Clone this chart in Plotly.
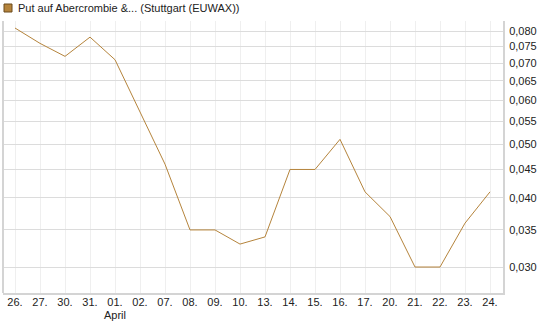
import math
import plotly.graph_objects as go

dates = ["26.", "27.", "30.", "31.", "01.", "02.", "07.", "08.", "09.", "10.",
         "13.", "14.", "15.", "16.", "17.", "20.", "21.", "22.", "23.", "24."]
prices = [0.081, 0.076, 0.072, 0.078, 0.071, 0.057, 0.046, 0.035, 0.035, 0.033,
          0.034, 0.045, 0.045, 0.051, 0.041, 0.037, 0.030, 0.030, 0.036, 0.041]
ytick_vals = [0.030, 0.035, 0.040, 0.045, 0.050, 0.055, 0.060, 0.065, 0.070, 0.075, 0.080]
ytick_text = [f"{v:.3f}".replace(".", ",") for v in ytick_vals]
month_label = "April"
month_at = "01."
series_name = "Put auf Abercrombie &... (Stuttgart (EUWAX))"

W, H = 545, 327
ml, mr, mt, mb = 3, 42, 21, 34
color = "#B5843C"
pw, ph = W - ml - mr, H - mt - mb

xs = list(range(len(dates)))
fig = go.Figure()
fig.add_trace(go.Scatter(x=xs, y=prices, mode="lines", line=dict(color=color, width=1),
                         name=series_name, showlegend=False, hoverinfo="skip"))

fig.update_layout(
    width=W, height=H,
    margin=dict(l=ml, r=mr, t=mt, b=mb),
    paper_bgcolor="white", plot_bgcolor="white",
    font=dict(family="Liberation Sans, Arial, sans-serif", size=11, color="#222"),
    xaxis=dict(
        range=[-0.48, len(dates) - 0.48], tickvals=xs, ticktext=dates,
        showgrid=True, gridcolor="#efefef", gridwidth=1,
        showline=True, linecolor="#d4d4d4", linewidth=2, mirror=False,
        ticks="", zeroline=False, tickfont=dict(size=11), ticklabelstandoff=-2,
    ),
    yaxis=dict(
        type="log", side="right",
        range=[math.log10(0.02693), math.log10(0.0834)],
        tickvals=ytick_vals, ticktext=ytick_text,
        showgrid=True, gridcolor="#dcdcdc", gridwidth=1,
        showline=True, linecolor="#d4d4d4", linewidth=2,
        ticks="", zeroline=False, tickfont=dict(size=11), ticklabelstandoff=2,
    ),
    showlegend=False,
)

fig.add_shape(type="line", xref="paper", yref="paper", x0=0, x1=0, y0=0, y1=1,
              line=dict(color="#d4d4d4", width=2))

fig.add_annotation(xref="x", yref="paper", x=dates.index(month_at),
                   y=-(315 - mt - ph) / ph, text=month_label, showarrow=False,
                   xanchor="center", yanchor="middle", font=dict(size=11, color="#222"))

fig.add_shape(type="rect", xref="paper", yref="paper",
              x0=(4 - ml) / pw, x1=(12 - ml) / pw,
              y0=1 + (mt - 12) / ph, y1=1 + (mt - 4) / ph,
              fillcolor=color, line=dict(color="#6b4a1c", width=1))
fig.add_annotation(xref="paper", yref="paper",
                   x=(16 - ml) / pw, y=1 + (mt - 8) / ph,
                   text=series_name, showarrow=False, xanchor="left", yanchor="middle",
                   font=dict(size=11, color="#222"))

fig.write_html("out.html")
